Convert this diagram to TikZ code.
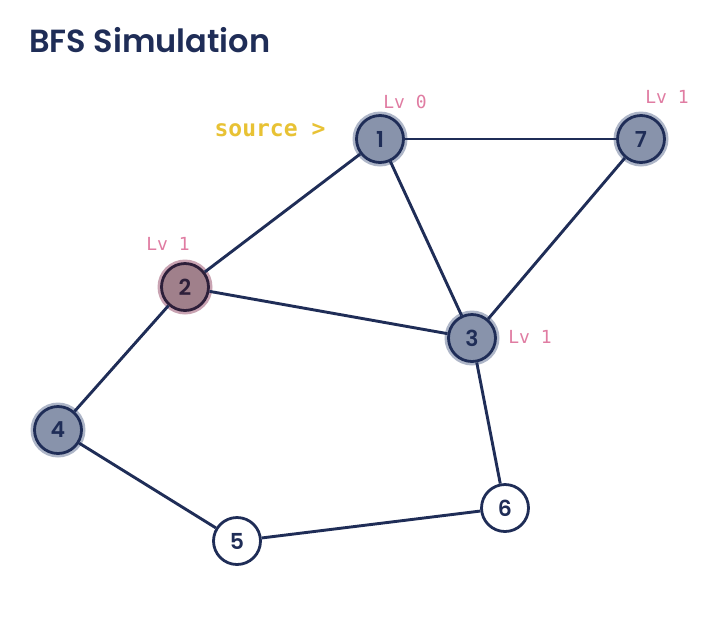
\documentclass[tikz,border=0pt]{standalone}
\usepackage{fontspec}
\setmainfont{Poppins}
\newfontfamily\titlef{Poppins SemiBold}
\newfontfamily\monof{DejaVu Sans Mono}
\definecolor{navy}{HTML}{1F2D57}
\definecolor{visfill}{HTML}{8893AB}
\definecolor{curfill}{HTML}{A0808B}
\definecolor{curline}{HTML}{2D1F3A}
\definecolor{curhalo}{HTML}{C9A3B2}
\definecolor{vishalo}{HTML}{AEB6C8}
\definecolor{lvpink}{HTML}{E07CA2}
\definecolor{srcyellow}{HTML}{E8C234}
\begin{document}
\begin{tikzpicture}[x=1pt,y=-1pt,
  base/.style={circle,minimum size=47pt,inner sep=0pt,line width=2.8pt,font=\titlef\fontsize{22}{22}\selectfont,text=navy},
  unvis/.style={base,draw=navy,fill=white},
  vis/.style={base,draw=navy,fill=visfill},
  cur/.style={base,draw=curline,fill=curfill,text=curline},
  edge/.style={draw=navy,line width=2.9pt},
  lv/.style={text=lvpink,font=\monof\fontsize{18}{18}\selectfont},
  src/.style={text=srcyellow,font=\monof\bfseries\fontsize{23}{23}\selectfont}]
\useasboundingbox (0,0) rectangle (707,625);
\fill[white] (0,0) rectangle (707,625);
\node[anchor=base west,text=navy,font=\titlef\fontsize{32}{32}\selectfont,inner sep=0pt] (title) at (29,52) {BFS Simulation};
% halos
\fill[vishalo] (380,139) circle (27.5pt);
\fill[vishalo] (641,139) circle (27.5pt);
\fill[vishalo] (472,338) circle (27.5pt);
\fill[vishalo] (58,430) circle (27.5pt);
\fill[curhalo] (185,287) circle (27.5pt);
\node[vis] (n1) at (380,139) {1};
\node[vis] (n7) at (641,139) {7};
\node[cur] (n2) at (185,287) {2};
\node[vis] (n3) at (472,338) {3};
\node[vis] (n4) at (58,430) {4};
\node[unvis] (n6) at (505,508) {6};
\node[unvis] (n5) at (237,541) {5};
\draw[edge] (n1) -- (n7);
\draw[edge] (n1) -- (n2);
\draw[edge] (n1) -- (n3);
\draw[edge] (n2) -- (n3);
\draw[edge] (n7) -- (n3);
\draw[edge] (n2) -- (n4);
\draw[edge] (n3) -- (n6);
\draw[edge] (n4) -- (n5);
\draw[edge] (n5) -- (n6);
\node[lv] (l1) at (405,102) {Lv 0};
\node[lv] (l7) at (667,97) {Lv 1};
\node[lv] (l2) at (168,244) {Lv 1};
\node[lv] (l3) at (530,337) {Lv 1};
\node[src] (s) at (270,130) {source >};
\end{tikzpicture}
\end{document}
